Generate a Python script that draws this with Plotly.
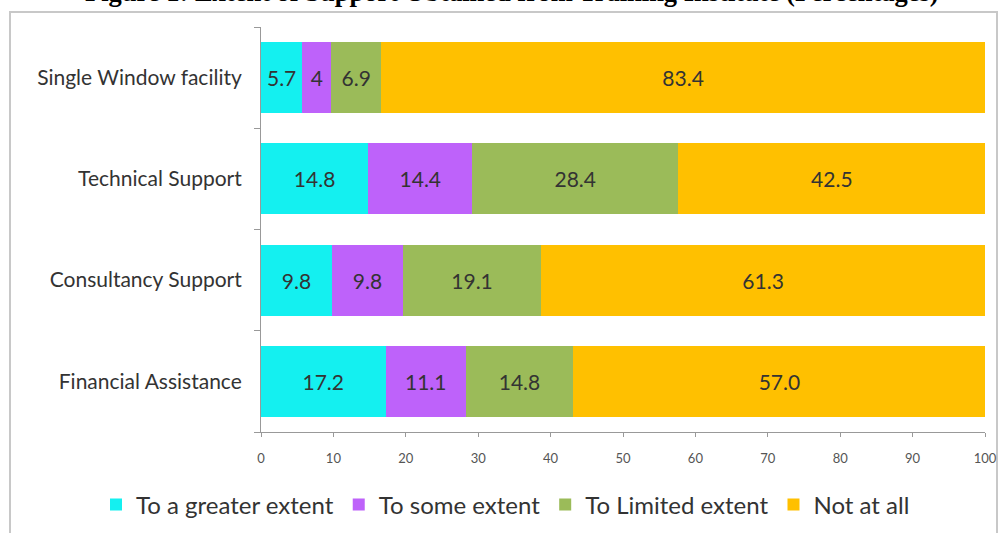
import plotly.graph_objects as go

categories = ["Financial Assistance", "Consultancy Support", "Technical Support", "Single Window facility"]
series_names = ["To a greater extent", "To some extent", "To Limited extent", "Not at all"]
greater = [17.2, 9.8, 14.8, 5.7]
some = [11.1, 9.8, 14.4, 4.0]
limited = [14.8, 19.1, 28.4, 6.9]
not_at_all = [57.0, 61.3, 42.5, 83.4]
greater_lbl = ["17.2", "9.8", "14.8", "5.7"]
some_lbl = ["11.1", "9.8", "14.4", "4"]
limited_lbl = ["14.8", "19.1", "28.4", "6.9"]
not_lbl = ["57.0", "61.3", "42.5", "83.4"]
x_ticks = [0, 10, 20, 30, 40, 50, 60, 70, 80, 90, 100]
colors = ["#14F0F0", "#BE62FA", "#9BBB59", "#FFC000"]

fig = go.Figure()
for name, vals, lbls, col in zip(series_names, [greater, some, limited, not_at_all],
                                 [greater_lbl, some_lbl, limited_lbl, not_lbl], colors):
    fig.add_trace(go.Bar(
        y=categories, x=vals, name=name, orientation="h",
        marker=dict(color=col, line=dict(width=0)),
        text=lbls, textposition="inside", insidetextanchor="middle",
        textfont=dict(family="Lato, Open Sans, sans-serif", size=21, color="#333333"),
        textangle=0,
    ))

fig.update_layout(
    barmode="stack",
    bargap=0.3,
    width=1003, height=533,
    margin=dict(l=261, r=18, t=27, b=101, autoexpand=False),
    paper_bgcolor="white", plot_bgcolor="white",
    showlegend=True,
    legend=dict(orientation="h",
                x=(96 - 261) / 724, xanchor="left",
                y=-(505 - 432) / 405, yanchor="middle",
                font=dict(family="Lato, Open Sans, sans-serif", size=24, color="#333333"),
                traceorder="normal", itemwidth=30, bgcolor="rgba(0,0,0,0)"),
    uniformtext=dict(mode=False),
    font=dict(family="Lato, Open Sans, sans-serif"),
)
fig.update_xaxes(
    range=[0, 100], tickvals=x_ticks, showgrid=False, zeroline=False,
    showline=True, linecolor="#999999", linewidth=1,
    ticks="outside", ticklen=4, tickcolor="#999999",
    tickfont=dict(size=13, color="#555555"), ticklabelstandoff=10,
)
fig.update_yaxes(
    categoryorder="array", categoryarray=categories,
    showgrid=False, zeroline=False, showline=True, linecolor="#999999", linewidth=1,
    ticks="outside", ticklen=6, tickcolor="#999999", tickson="boundaries",
    tickfont=dict(size=21, color="#333333"), ticklabelstandoff=14,
)

# outer chart border
fig.add_shape(type="rect", xref="paper", yref="paper",
              x0=(10 - 261) / 724, x1=(997 - 261) / 724,
              y0=-0.4, y1=1 + 15 / 405,
              line=dict(color="#C8C8C8", width=2), layer="below")

fig.add_annotation(
    text="<b>Figure 1: Extent of Support Obtained from Training Institute (Percentages)</b>",
    xref="paper", yref="paper", x=(512 - 261) / 724, y=1 + 18 / 405,
    xanchor="center", yanchor="bottom", showarrow=False,
    font=dict(family="Liberation Serif, serif", size=26.5, color="#000000"),
)

fig.write_html("out.html")
